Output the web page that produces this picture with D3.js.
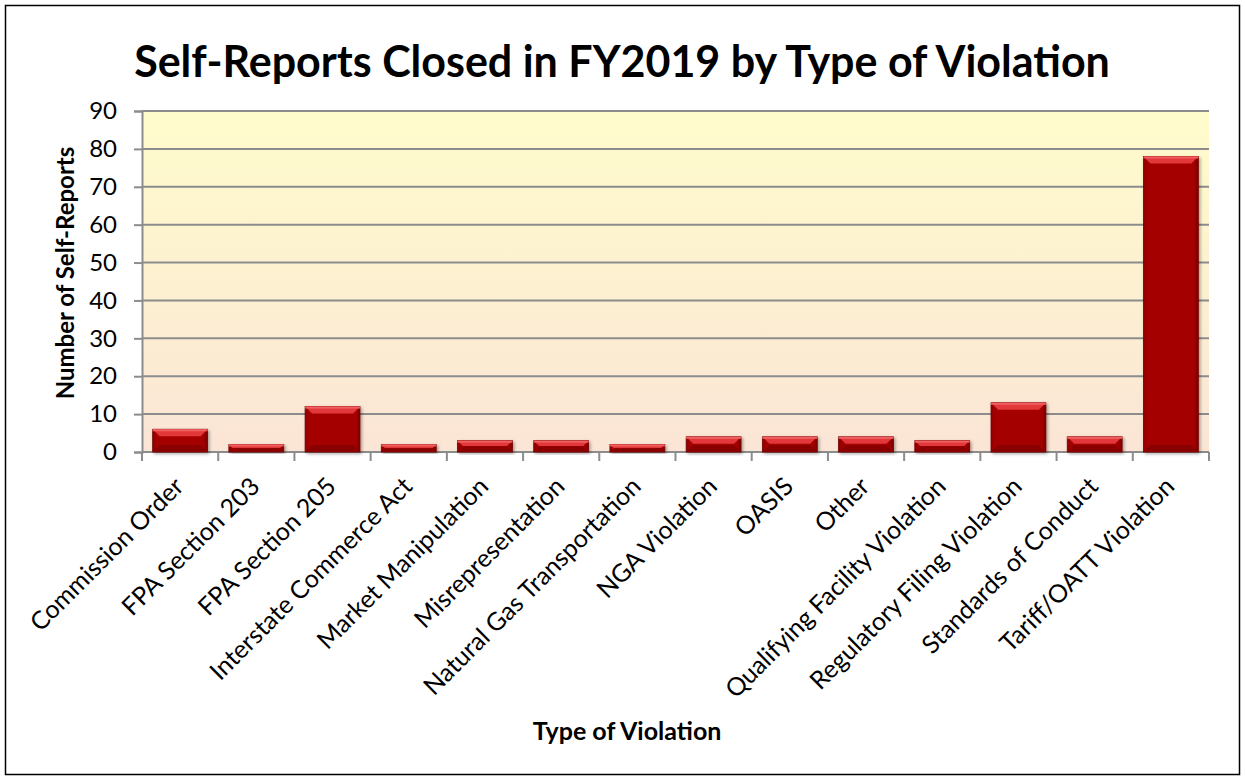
<!DOCTYPE html>
<html>
<head>
<meta charset="utf-8">
<script src="https://cdn.jsdelivr.net/npm/d3@7"></script>
<style>
  body { margin: 0; background: #fff; }
  svg { display: block; font-family: Lato, "Open Sans", sans-serif; }
</style>
</head>
<body>
<div id="chart"></div>
<script>
const categories = [
  'Commission Order', 'FPA Section 203', 'FPA Section 205', 'Interstate Commerce Act',
  'Market Manipulation', 'Misrepresentation', 'Natural Gas Transportation', 'NGA Violation',
  'OASIS', 'Other', 'Qualifying Facility Violation', 'Regulatory Filing Violation',
  'Standards of Conduct', 'Tariff/OATT Violation'
];
const counts = [6, 2, 12, 2, 3, 3, 2, 4, 4, 4, 3, 13, 4, 78];
const yTicks = [0, 10, 20, 30, 40, 50, 60, 70, 80, 90];

const width = 1245, height = 780;
const margin = { top: 111, right: 36, bottom: 328, left: 142 };
const innerW = width - margin.left - margin.right;
const innerH = height - margin.top - margin.bottom;

const data = categories.map((c, i) => ({ name: c, value: counts[i] }));

const svg = d3.select('#chart').append('svg')
  .attr('width', width)
  .attr('height', height);

// Background gradient + bar shading
const defs = svg.append('defs');
const bg = defs.append('linearGradient').attr('id', 'bg')
  .attr('x1', 0).attr('y1', 0).attr('x2', 0).attr('y2', 1);
bg.append('stop').attr('offset', '0%').attr('stop-color', '#fffccc');
bg.append('stop').attr('offset', '100%').attr('stop-color', '#fbe5d6');

const barGrad = defs.append('linearGradient').attr('id', 'barGrad')
  .attr('x1', 0).attr('y1', 0).attr('x2', 1).attr('y2', 0);
barGrad.append('stop').attr('offset', '0%').attr('stop-color', '#8f0000');
barGrad.append('stop').attr('offset', '8%').attr('stop-color', '#a50404');
barGrad.append('stop').attr('offset', '92%').attr('stop-color', '#a50404');
barGrad.append('stop').attr('offset', '100%').attr('stop-color', '#7a0000');

const shadow = defs.append('filter').attr('id', 'shadow')
  .attr('x', '-20%').attr('y', '-20%').attr('width', '140%').attr('height', '140%');
shadow.append('feDropShadow').attr('dx', 1.5).attr('dy', 1.5).attr('stdDeviation', 1.5)
  .attr('flood-color', '#000').attr('flood-opacity', 0.35);

// Outer frame
svg.append('rect')
  .attr('x', 5.5).attr('y', 5.5)
  .attr('width', width - 11).attr('height', height - 11)
  .attr('fill', '#fff').attr('stroke', '#000').attr('stroke-width', 1.5);

// Title
svg.append('text')
  .attr('x', 622).attr('y', 77)
  .attr('text-anchor', 'middle')
  .attr('font-size', '43px')
  .attr('font-weight', 'bold')
  .text('Self-Reports Closed in FY2019 by Type of Violation');

const g = svg.append('g')
  .attr('transform', `translate(${margin.left},${margin.top})`);

const x = d3.scaleBand()
  .domain(categories)
  .range([0, innerW])
  .paddingInner(0.28)
  .paddingOuter(0.14);

const y = d3.scaleLinear()
  .domain([0, 90])
  .range([innerH, 0]);

g.append('rect')
  .attr('width', innerW).attr('height', innerH)
  .attr('fill', 'url(#bg)');

// Gridlines
g.append('g')
  .selectAll('line')
  .data(yTicks)
  .join('line')
  .attr('x1', 0).attr('x2', innerW)
  .attr('y1', d => y(d)).attr('y2', d => y(d))
  .attr('stroke', '#8c8c8c').attr('stroke-width', 2);

// Y axis
const yAxis = g.append('g')
  .call(d3.axisLeft(y).tickValues(yTicks).tickSize(8).tickPadding(17));
yAxis.select('.domain').attr('stroke', '#8c8c8c').attr('stroke-width', 2);
yAxis.selectAll('.tick line').attr('stroke', '#8c8c8c').attr('stroke-width', 2);
yAxis.selectAll('.tick text')
  .attr('font-size', '24px')
  .attr('font-family', 'Lato, "Open Sans", sans-serif')
  .attr('fill', '#000');

// X axis: ticks sit between categories
const xAxis = g.append('g').attr('transform', `translate(0,${innerH})`);
xAxis.append('line')
  .attr('x1', 0).attr('x2', innerW)
  .attr('stroke', '#8c8c8c').attr('stroke-width', 2);
xAxis.selectAll('.xtick')
  .data(d3.range(categories.length + 1))
  .join('line')
  .attr('class', 'xtick')
  .attr('x1', i => i * innerW / categories.length)
  .attr('x2', i => i * innerW / categories.length)
  .attr('y1', 0).attr('y2', 9)
  .attr('stroke', '#8c8c8c').attr('stroke-width', 2);

xAxis.selectAll('.xlabel')
  .data(categories)
  .join('text')
  .attr('class', 'xlabel')
  .attr('text-anchor', 'end')
  .attr('font-size', '25px')
  .attr('transform', d => `translate(${x(d) + x.bandwidth() / 2 + 5},${36}) rotate(-45)`)
  .text(d => d);

// Bars with bevel
const bars = g.append('g').selectAll('g')
  .data(data)
  .join('g')
  .attr('filter', 'url(#shadow)');

const bev = 7;
bars.append('rect')
  .attr('x', d => x(d.name))
  .attr('y', d => y(d.value))
  .attr('width', x.bandwidth())
  .attr('height', d => innerH - y(d.value))
  .attr('fill', 'url(#barGrad)')
  .attr('stroke', '#6e0000').attr('stroke-width', 0.8);

bars.append('path')
  .attr('d', d => {
    const x0 = x(d.name), x1 = x0 + x.bandwidth();
    const y0 = y(d.value);
    const b = Math.min(bev, (innerH - y0) / 2);
    return `M${x0},${y0}L${x1},${y0}L${x1 - b},${y0 + b}L${x0 + b},${y0 + b}Z`;
  })
  .attr('fill', '#e2383a');

bars.append('path')
  .attr('d', d => {
    const x0 = x(d.name), x1 = x0 + x.bandwidth();
    const y0 = y(d.value), y1 = innerH;
    const b = Math.min(bev, (innerH - y0) / 2);
    return `M${x0},${y1}L${x1},${y1}L${x1 - b},${y1 - b}L${x0 + b},${y1 - b}Z`;
  })
  .attr('fill', '#8a0000');

bars.append('rect')
  .attr('x', d => x(d.name))
  .attr('y', d => y(d.value))
  .attr('width', x.bandwidth())
  .attr('height', 2)
  .attr('fill', '#f06060');

// Axis titles
svg.append('text')
  .attr('transform', 'translate(74,273) rotate(-90)')
  .attr('text-anchor', 'middle')
  .attr('font-size', '24px')
  .attr('font-weight', 'bold')
  .text('Number of Self-Reports');

svg.append('text')
  .attr('x', 627).attr('y', 740)
  .attr('text-anchor', 'middle')
  .attr('font-size', '25px')
  .attr('font-weight', 'bold')
  .text('Type of Violation');
</script>
</body>
</html>
